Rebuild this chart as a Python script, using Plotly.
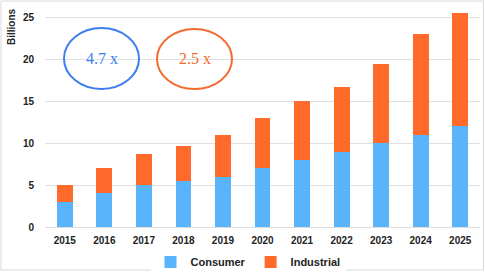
import plotly.graph_objects as go

years = ["2015", "2016", "2017", "2018", "2019", "2020", "2021", "2022", "2023", "2024", "2025"]
consumer = [3, 4, 5, 5.5, 6, 7, 8, 9, 10, 11, 12]
industrial = [2, 3, 3.7, 4.2, 5, 6, 7, 7.7, 9.5, 12, 13.5]
y_ticks = [0, 5, 10, 15, 20, 25]

C_BLUE = "#5ab4fc"
C_ORANGE = "#ff6a2a"

fig = go.Figure()
fig.add_trace(go.Bar(x=years, y=consumer, name="Consumer", marker=dict(color=C_BLUE, line=dict(width=0))))
fig.add_trace(go.Bar(x=years, y=industrial, name="Industrial", marker=dict(color=C_ORANGE, line=dict(width=0))))

L, R, T, B = 45, 5, 9, 45
W, H = 485, 272
pw = W - L - R
ph = H - T - B

def px(x):
    return (x - L) / pw

def py(y):
    return (H - B - y) / ph

fig.update_layout(
    width=W, height=H,
    margin=dict(l=L, r=R, t=T, b=B, autoexpand=False),
    barmode="stack",
    bargap=0.6,
    plot_bgcolor="white",
    paper_bgcolor="white",
    font=dict(family="Liberation Sans", color="#222222"),
    showlegend=True,
    legend=dict(orientation="h", x=px(248), xanchor="center", y=py(262), yanchor="middle",
                font=dict(size=11, weight="bold", color="#222222"),
                itemwidth=30, traceorder="normal"),
    xaxis=dict(type="category", tickfont=dict(size=10, weight="bold"), showgrid=False,
               showline=True, linecolor="#dddddd", ticks="", range=[-0.5, 10.5], automargin=False,
               ticklabelstandoff=4),
    yaxis=dict(range=[0, 26], tickvals=y_ticks, tickfont=dict(size=10, weight="bold"),
               showgrid=True, gridcolor="#e0e0e0", gridwidth=1, zeroline=False, ticks="",
               ticklabelstandoff=10, automargin=False),
)

shapes = [
    dict(type="rect", xref="paper", yref="paper", x0=px(1), x1=px(483.5), y0=py(270), y1=py(1),
         line=dict(color="#d9d9d9", width=1)),
    dict(type="circle", xref="paper", yref="paper", x0=px(64), x1=px(139), y0=py(89), y1=py(28),
         line=dict(color="#3d7eef", width=2)),
    dict(type="circle", xref="paper", yref="paper", x0=px(157), x1=px(232), y0=py(89), y1=py(29),
         line=dict(color="#f26b30", width=2)),
]
fig.update_layout(shapes=shapes)

fig.add_annotation(x=px(101.5), y=py(58.5), xref="paper", yref="paper", text="4.7 x", showarrow=False,
                   xanchor="center", yanchor="middle",
                   font=dict(family="Liberation Serif", size=16, color="#3d7eef"))
fig.add_annotation(x=px(195), y=py(59), xref="paper", yref="paper", text="2.5 x", showarrow=False,
                   xanchor="center", yanchor="middle",
                   font=dict(family="Liberation Serif", size=16, color="#f26b30"))
fig.add_annotation(x=px(12), y=py(27), xref="paper", yref="paper", text="Billions", showarrow=False,
                   xanchor="center", yanchor="middle",
                   textangle=-90, font=dict(size=10, weight="bold", color="#222222"))

fig.write_html("out.html", config={"displayModeBar": False},
               post_script="document.body.style.margin='0';")
